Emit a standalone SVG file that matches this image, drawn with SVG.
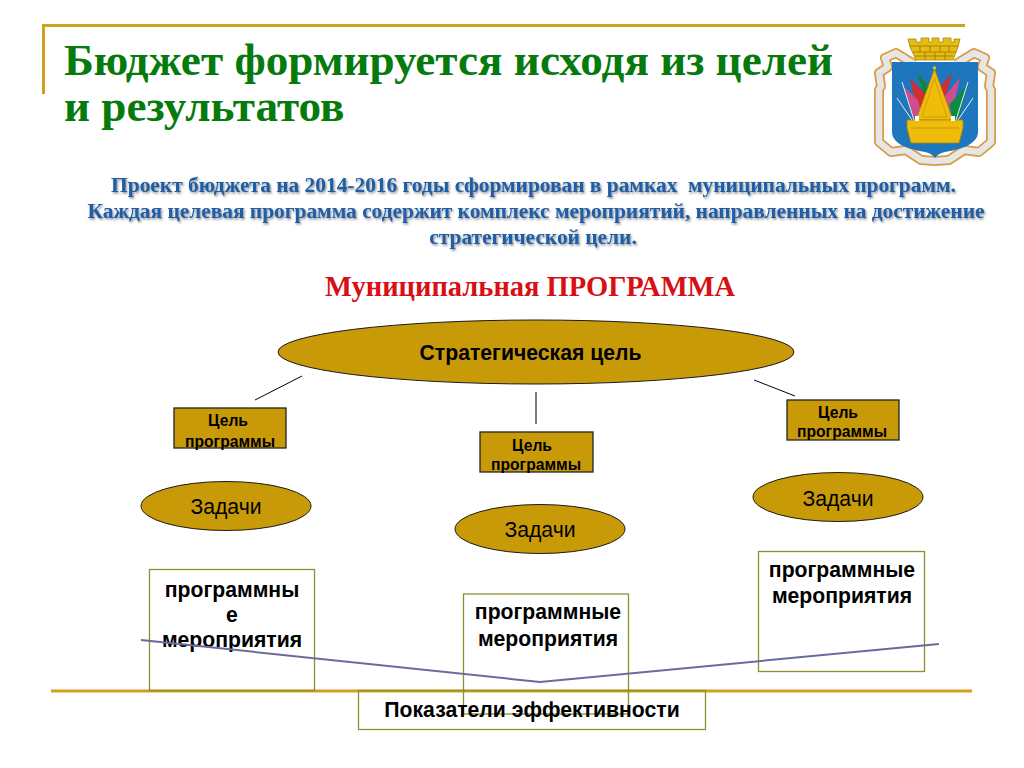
<svg xmlns="http://www.w3.org/2000/svg" width="1024" height="768" viewBox="0 0 1024 768">
<style>
.s{font-family:"Liberation Sans",Arial,sans-serif;fill:#000}
.t{font-family:"Liberation Serif","Times New Roman",serif;font-weight:bold}
.title{font-size:45.200px;fill:#067a0c}
.sub{font-size:21.400px;fill:#1a5fa8;text-anchor:middle;filter:url(#sh)}
.b{font-weight:bold;text-anchor:middle}
.el{fill:#c99a08;stroke:#1a1a1a;stroke-width:1}
.box{fill:#c99a08;stroke:#222;stroke-width:1.300}
.wb{fill:none;stroke:#8f8f2e;stroke-width:1.300}
.gold{stroke:#d29f1e;stroke-width:3;fill:none}
.m{font-size:21.200px}.c{font-size:15.700px}
.ro{fill:none;stroke:#d99a45;stroke-width:10;stroke-linejoin:round}
.ri{fill:none;stroke:#e6e6e4;stroke-width:6.500;stroke-linejoin:round}
.bk{fill:none;stroke:#8a6d05;stroke-width:.7}
</style>
<defs>
<filter id="sh" x="-5%" y="-20%" width="110%" height="150%"><feDropShadow dx="1.2" dy="1.5" stdDeviation="0.8" flood-color="#555" flood-opacity=".7"/></filter>
<path id="rib" d="M914 64L896 53 885 58 888 67 879 73 881 86 879 90V142L891 152 906 150 921 160 936 161"/>
</defs>
<rect width="1024" height="768" fill="#fff"/>
<g id="frame"><path class="gold" d="M965 25.500H43.500V94"/><path class="gold" d="M51 691H972"/></g>
<g id="title"><text class="t title" x="64" y="75">Бюджет формируется исходя из целей</text><text class="t title" x="64" y="121">и результатов</text></g>
<g id="emblem">
<use href="#rib" class="ro"/><use href="#rib" class="ro" transform="matrix(-1 0 0 1 1870 0)"/>
<use href="#rib" class="ri"/><use href="#rib" class="ri" transform="matrix(-1 0 0 1 1870 0)"/>
<path d="M908 39H916V42H921V38H929V42H932V38H939V42H943V38H951V42H954V39H960L958 47 953 60H916L910 47Z" fill="#e6bb12" stroke="#a8850a" stroke-width=".8"/>
<path class="bk" d="M910 46H958M913 52H956M915 56H953M920 46V52M930 46V52M940 46V52M949 46V52M925 52V60M935 52V60M945 52V60"/>
<path d="M892 62H978V132C978 145 958 150 945 152C940 153 937 155 935 158C933 155 930 153 925 152C912 150 892 145 892 132Z" fill="#1e76bc"/>
<path d="M917 73L932 90 926 103Z" fill="#11833d"/>
<path d="M910 78L927 96 922 112 917 110Z" fill="#d42c30"/>
<path d="M904 87L918 100 922 116 914 118Z" fill="#cf4d8c"/>
<path d="M952 73L937 90 944 102Z" fill="#d42c30"/>
<path d="M960 78L943 98 949 112 953 108Z" fill="#cf4d8c"/>
<path d="M967 85L949 105 953 118 959 118Z" fill="#0d8a45"/>
<g stroke="#e8ecf4" stroke-width="1" fill="none"><path d="M902 82L914 120M897 98L912 120M968 82L956 120M973 98L958 120"/></g>
<circle cx="934.500" cy="68" r="1.800" fill="#f0bc0a"/>
<path d="M934.500 69L953 120H916Z" fill="#f0bc0a" stroke="#a8850a" stroke-width=".7"/>
<path d="M934.500 78L947 117H922Z" fill="none" stroke="#a8850a" stroke-width=".5"/>
<path d="M907 120H963V128L959 143H911L907 128Z" fill="#f0bc0a" stroke="#a8850a" stroke-width=".8"/>
<path d="M911 128H959" stroke="#a8850a" stroke-width=".6"/>
<rect x="915" y="116" width="4" height="5" fill="#fff"/><rect x="951" y="116" width="4" height="5" fill="#fff"/>
</g>
<g id="intro">
<text class="t sub" x="533.500" y="192" xml:space="preserve">Проект бюджета на 2014-2016 годы сформирован в рамках  муниципальных программ.</text>
<text class="t sub" x="536" y="218">Каждая целевая программа содержит комплекс мероприятий, направленных на достижение</text>
<text class="t sub" x="533" y="244">стратегической цели.</text>
</g>
<text id="heading" class="t" x="530" y="296" font-size="28.500" fill="#d80f14" text-anchor="middle">Муниципальная ПРОГРАММА</text>
<g id="connectors" stroke="#000" stroke-width="1" fill="none">
<path d="M255 400L302 376M536 392V424M754 380L795 396"/>
</g>
<g id="strategic"><ellipse class="el" cx="536" cy="352" rx="258" ry="32"/><text class="s b m" x="530.500" y="360">Стратегическая цель</text></g>
<g id="goal1"><rect class="box" x="174" y="408" width="112" height="40"/><text class="s b c" x="228" y="426">Цель</text><text class="s b c" x="230" y="447">программы</text></g>
<g id="goal2"><rect class="box" x="480" y="432" width="113" height="40"/><text class="s b c" x="532" y="451">Цель</text><text class="s b c" x="536" y="470">программы</text></g>
<g id="goal3"><rect class="box" x="787" y="400" width="112" height="40"/><text class="s b c" x="838" y="418">Цель</text><text class="s b c" x="842" y="437">программы</text></g>
<g id="task1"><ellipse class="el" cx="226" cy="506" rx="85" ry="24.500"/><text class="s m" x="226" y="514" text-anchor="middle">Задачи</text></g>
<g id="task2"><ellipse class="el" cx="540" cy="529" rx="85" ry="24.500"/><text class="s m" x="540" y="537" text-anchor="middle">Задачи</text></g>
<g id="task3"><ellipse class="el" cx="838" cy="497" rx="85" ry="24.500"/><text class="s m" x="838" y="506" text-anchor="middle">Задачи</text></g>
<g id="act1"><rect class="wb" x="149.500" y="569.500" width="165" height="121"/><text class="s b m" x="232" y="597">программны</text><text class="s b m" x="232" y="622">е</text><text class="s b m" x="232" y="647">мероприятия</text></g>
<g id="act2"><rect class="wb" x="463.500" y="594" width="165" height="120"/><text class="s b m" x="548" y="619">программные</text><text class="s b m" x="548" y="646">мероприятия</text></g>
<g id="act3"><rect class="wb" x="758.500" y="551.500" width="166" height="120"/><text class="s b m" x="842" y="577">программные</text><text class="s b m" x="842" y="603">мероприятия</text></g>
<g id="indicators"><rect class="wb" x="358.500" y="690.500" width="347" height="39"/><text class="s b m" x="532" y="717">Показатели эффективности</text></g>
<path id="trend" d="M141 640L540 682L939 644" fill="none" stroke="#6a6a9e" stroke-width="2"/>
</svg>
